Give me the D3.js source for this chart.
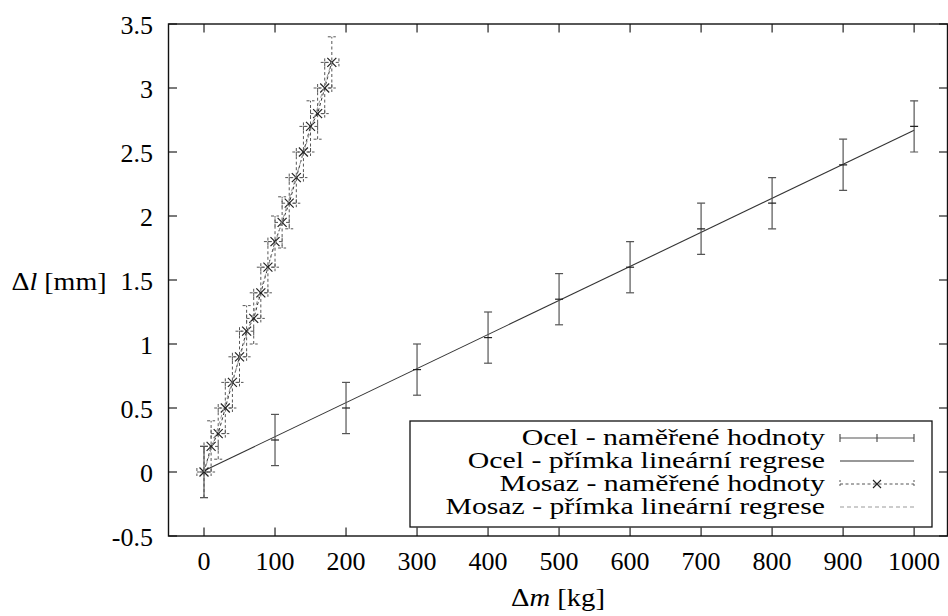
<!DOCTYPE html>
<html><head><meta charset="utf-8">
<script src="https://cdn.jsdelivr.net/npm/d3@7"></script>
<style>body{margin:0;background:#fff;}</style></head>
<body><svg id="c" width="948" height="616" font-family="Liberation Serif"></svg>
<script>
// ---- data ----
const ocelX = [0,100,200,300,400,500,600,700,800,900,1000];
const ocelY = [0,0.25,0.5,0.8,1.05,1.35,1.6,1.9,2.1,2.4,2.7];
const ocelErrY = 0.2;
const ocelFit = {a:0.01, b:0.00266};
const mosazX = [0,10,20,30,40,50,60,70,80,90,100,110,120,130,140,150,160,170,180];
const mosazY = [0,0.2,0.3,0.5,0.7,0.9,1.1,1.2,1.4,1.6,1.8,1.95,2.1,2.3,2.5,2.7,2.8,3.0,3.2];
const mosazErrX = 10, mosazErrY = 0.2;
const mosazFit = {a:0.0, b:0.0178};
const xTicks = [0,100,200,300,400,500,600,700,800,900,1000];
const yTicks = [-0.5,0,0.5,1,1.5,2,2.5,3,3.5];
const legendLabels = ["Ocel - naměřené hodnoty","Ocel - přímka lineární regrese","Mosaz - naměřené hodnoty","Mosaz - přímka lineární regrese"];
const legendEm = [11.03,12.99,11.84,13.8];

const FF = "Liberation Serif";
const svg = d3.select("#c");
const L=168.5, R=947.5, T=24, B=536;
const x = d3.scaleLinear().domain([-50,1047]).range([L,R]);
const y = d3.scaleLinear().domain([-0.5,3.5]).range([B,T]);
const FS = 26;

svg.append("clipPath").attr("id","cl").append("rect").attr("x",L).attr("y",T).attr("width",R-L).attr("height",B-T);
const g = svg.append("g").attr("clip-path","url(#cl)");

// Ocel regression
g.append("line").attr("x1",x(0)).attr("x2",x(1000)).attr("y1",y(ocelFit.a)).attr("y2",y(ocelFit.a+ocelFit.b*1000))
 .attr("stroke","#333").attr("stroke-width",1.1);
const oc = ocelX.map((v,i)=>({x:v,y:ocelY[i]}));
const cap=4;
oc.forEach(d=>{
  const px=x(d.x), p1=y(d.y-ocelErrY), p2=y(d.y+ocelErrY), pc=y(d.y);
  const s="#555";
  g.append("line").attr("x1",px).attr("x2",px).attr("y1",p1).attr("y2",p2).attr("stroke",s).attr("stroke-width",1.2);
  g.append("line").attr("x1",px-cap).attr("x2",px+cap).attr("y1",p1).attr("y2",p1).attr("stroke",s).attr("stroke-width",1.2);
  g.append("line").attr("x1",px-cap).attr("x2",px+cap).attr("y1",p2).attr("y2",p2).attr("stroke",s).attr("stroke-width",1.2);
  g.append("line").attr("x1",px-cap).attr("x2",px+cap).attr("y1",pc).attr("y2",pc).attr("stroke","#222").attr("stroke-width",1.2);
});

// Mosaz
const mo = mosazX.map((v,i)=>({x:v,y:mosazY[i]}));
const dash="3,2.5", ms="#555";
g.append("path").attr("d",d3.line().x(d=>x(d.x)).y(d=>y(d.y))(mo)).attr("fill","none").attr("stroke","#333").attr("stroke-width",1).attr("stroke-dasharray",dash);
mo.forEach(d=>{
  const px=x(d.x), py=y(d.y);
  const x1=x(d.x-mosazErrX), x2=x(d.x+mosazErrX), y1=y(d.y-mosazErrY), y2=y(d.y+mosazErrY);
  const seg=(a,b,c,e)=>g.append("line").attr("x1",a).attr("y1",b).attr("x2",c).attr("y2",e).attr("stroke",ms).attr("stroke-width",1).attr("stroke-dasharray",dash);
  seg(x1,py,x2,py); seg(px,y1,px,y2);
  seg(x1,py-cap,x1,py+cap); seg(x2,py-cap,x2,py+cap);
  seg(px-cap,y1,px+cap,y1); seg(px-cap,y2,px+cap,y2);
  const m=4.5;
  g.append("line").attr("x1",px-m).attr("y1",py-m).attr("x2",px+m).attr("y2",py+m).attr("stroke","#222").attr("stroke-width",1.2);
  g.append("line").attr("x1",px-m).attr("y1",py+m).attr("x2",px+m).attr("y2",py-m).attr("stroke","#222").attr("stroke-width",1.2);
});
g.append("line").attr("x1",x(0)).attr("x2",x(180)).attr("y1",y(mosazFit.a)).attr("y2",y(mosazFit.a+mosazFit.b*180))
 .attr("stroke","#999").attr("stroke-width",1).attr("stroke-dasharray","4,3");

// ticks
const tl=8.5;
const ax = svg.append("g").attr("stroke","#222").attr("stroke-width",1.2);
xTicks.forEach(t=>{
  ax.append("line").attr("x1",x(t)).attr("x2",x(t)).attr("y1",B).attr("y2",B-tl);
  ax.append("line").attr("x1",x(t)).attr("x2",x(t)).attr("y1",T).attr("y2",T+tl);
});
yTicks.forEach(t=>{
  ax.append("line").attr("x1",L).attr("x2",L+tl).attr("y1",y(t)).attr("y2",y(t));
  ax.append("line").attr("x1",R).attr("x2",R-tl).attr("y1",y(t)).attr("y2",y(t));
});
svg.append("rect").attr("x",L).attr("y",T).attr("width",R-L).attr("height",B-T).attr("fill","none").attr("stroke","#111").attr("stroke-width",1.4);

// tick labels
svg.append("g").selectAll("text").data(xTicks).join("text").attr("font-family",FF)
 .attr("x",d=>x(d)).attr("y",570).attr("text-anchor","middle").attr("font-size",FS).text(d=>d);
svg.append("g").selectAll("text").data(yTicks).join("text").attr("font-family",FF)
 .attr("x",153).attr("y",d=>y(d)+9.5).attr("text-anchor","end").attr("font-size",FS).text(d=>d);

// axis titles
const yl = svg.append("text").attr("font-family",FF).attr("x",106.5).attr("y",289.5).attr("text-anchor","end").attr("font-size",FS)
  .attr("textLength",95).attr("lengthAdjust","spacingAndGlyphs");
yl.append("tspan").text("Δ"); yl.append("tspan").attr("font-style","italic").text("l"); yl.append("tspan").text(" [mm]");
const xl = svg.append("text").attr("font-family",FF).attr("x",558).attr("y",606).attr("text-anchor","middle").attr("font-size",FS)
  .attr("textLength",94).attr("lengthAdjust","spacingAndGlyphs");
xl.append("tspan").text("Δ"); xl.append("tspan").attr("font-style","italic").text("m"); xl.append("tspan").text(" [kg]");

// legend
const lg = svg.append("g");
lg.append("rect").attr("x",410).attr("y",421).attr("width",522).attr("height",106).attr("fill","#fff").attr("stroke","#111").attr("stroke-width",1.3);
const rowB=[445,468,491,514];
legendLabels.forEach((t,i)=>{
  lg.append("text").attr("font-family",FF).attr("x",825).attr("y",rowB[i]).attr("text-anchor","end").attr("font-size",24)
    .attr("textLength",legendEm[i]*27.5).attr("lengthAdjust","spacingAndGlyphs").text(t);
});
const rowY = rowB.map(b=>b-7);
const sx1=840, sx2=914, sm=(sx1+sx2)/2;
lg.append("line").attr("x1",sx1).attr("x2",sx2).attr("y1",rowY[0]).attr("y2",rowY[0]).attr("stroke","#555").attr("stroke-width",1.1);
[sx1,sx2,sm].forEach(v=>lg.append("line").attr("x1",v).attr("x2",v).attr("y1",rowY[0]-4).attr("y2",rowY[0]+4).attr("stroke","#444").attr("stroke-width",1.1));
lg.append("line").attr("x1",sx1).attr("x2",sx2).attr("y1",rowY[1]).attr("y2",rowY[1]).attr("stroke","#333").attr("stroke-width",1.1);
lg.append("line").attr("x1",sx1).attr("x2",sx2).attr("y1",rowY[2]).attr("y2",rowY[2]).attr("stroke",ms).attr("stroke-width",1).attr("stroke-dasharray",dash);
[sx1,sx2].forEach(v=>lg.append("line").attr("x1",v).attr("x2",v).attr("y1",rowY[2]-4).attr("y2",rowY[2]+4).attr("stroke",ms).attr("stroke-width",1).attr("stroke-dasharray","2,2"));
lg.append("line").attr("x1",sm-4).attr("x2",sm+4).attr("y1",rowY[2]-4).attr("y2",rowY[2]+4).attr("stroke","#222").attr("stroke-width",1.1);
lg.append("line").attr("x1",sm-4).attr("x2",sm+4).attr("y1",rowY[2]+4).attr("y2",rowY[2]-4).attr("stroke","#222").attr("stroke-width",1.1);
lg.append("line").attr("x1",sx1).attr("x2",sx2).attr("y1",rowY[3]).attr("y2",rowY[3]).attr("stroke","#999").attr("stroke-width",1).attr("stroke-dasharray","4,3");
</script></body></html>
